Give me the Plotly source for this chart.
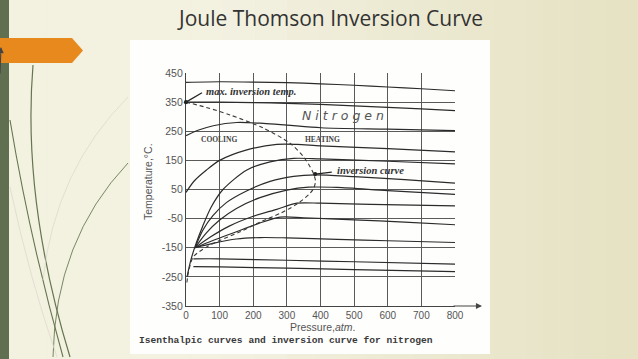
import plotly.graph_objects as go

# ---------------- data ----------------
x_ticks = [0, 100, 200, 300, 400, 500, 600, 700, 800]
y_ticks = [-350, -250, -150, -50, 50, 150, 250, 350, 450]
y_tick_text = ["-350", "-250", "-150", "-50", "50", "150", "250", "350", "450"]

# isenthalpic curves (pressure atm, temperature C)
h1_p = [0, 100, 200, 300, 400, 500, 600, 700, 800]
h1_t = [418, 420, 419, 417, 413, 408, 402, 396, 389]
h2_p = [0, 100, 200, 300, 400, 500, 600, 700, 800]
h2_t = [350, 350, 348, 346, 342, 337, 332, 327, 321]
h3_p = [0, 40, 81, 151, 230, 300, 402, 600, 800]
h3_t = [235, 255, 269, 280, 277, 271, 262, 257, 252]
h4_p = [0, 25, 61, 100, 181, 270, 330, 400, 600, 800]
h4_t = [40, 80, 117, 150, 186, 205, 205, 200, 190, 179]
h5_p = [3, 15, 30, 50, 75, 110, 181, 250, 320, 400, 600, 800]
h5_t = [-250, -190, -135, -75, -10, 50, 117, 145, 157, 155, 147, 138]
h6_p = [27, 50, 80, 120, 180, 250, 320, 385, 500, 650, 800]
h6_t = [-150, -90, -40, 5, 45, 78, 95, 100, 94, 84, 72]
h7_p = [27, 60, 100, 150, 220, 300, 365, 450, 600, 800]
h7_t = [-150, -100, -55, -15, 22, 48, 58, 57, 46, 33]
h8_p = [27, 70, 130, 200, 270, 330, 400, 550, 800]
h8_t = [-150, -115, -75, -42, -18, 3, 3, -1, -6]
h9_p = [27, 80, 150, 220, 280, 350, 500, 650, 800]
h9_t = [-150, -125, -95, -65, -45, -47, -54, -62, -71]
h10_p = [27, 80, 150, 220, 300, 450, 600, 800]
h10_t = [-150, -135, -120, -115, -116, -121, -126, -132]
h11_p = [22, 100, 300, 500, 800]
h11_t = [-188, -188, -193, -198, -206]
h12_p = [22, 100, 300, 500, 800]
h12_t = [-215, -216, -220, -225, -232]

# inversion curve (dashed)
inv_p = [0, 60, 131, 230, 309, 349, 375, 385, 380, 369, 330, 280, 220, 161, 100, 62, 22, 8, 2]
inv_t = [350, 332, 306, 261, 209, 163, 115, 80, 55, 37, 0, -32, -62, -95, -125, -147, -181, -230, -275]

curves = [(h1_p, h1_t), (h2_p, h2_t), (h3_p, h3_t), (h4_p, h4_t), (h5_p, h5_t),
          (h6_p, h6_t), (h7_p, h7_t), (h8_p, h8_t), (h9_p, h9_t), (h10_p, h10_t),
          (h11_p, h11_t), (h12_p, h12_t)]

# ---------------- layout geometry ----------------
W, H = 638, 359
L, R, T, B = 186, 455, 73, 306


def px(xp):
    return (xp - L) / (R - L)


def py(yp):
    return (B - yp) / (B - T)


def pt(xp, yp):
    return f"{px(xp):.4f},{py(yp):.4f}"


fig = go.Figure()

for cp, ct in curves:
    fig.add_trace(go.Scatter(x=cp, y=ct, mode="lines",
                             line=dict(color="#2b2b2b", width=1.2, shape="spline", smoothing=0.8),
                             hoverinfo="skip", showlegend=False))

fig.add_trace(go.Scatter(x=inv_p, y=inv_t, mode="lines",
                         line=dict(color="#3a3a3a", width=1.1, dash="4px,3px", shape="spline", smoothing=0.8),
                         hoverinfo="skip", showlegend=False))

shapes = []
# background gradient stripes
n = 40
c_left = (243, 241, 224)
c_mid = (243, 241, 225)
c_right = (230, 226, 195)
for i in range(n):
    f = i / (n - 1)
    if f < 0.35:
        g = f / 0.35
        c = [c_left[k] + (c_mid[k] - c_left[k]) * g for k in range(3)]
    else:
        g = (f - 0.35) / 0.65
        c = [c_mid[k] + (c_right[k] - c_mid[k]) * g for k in range(3)]
    x0 = W * i / n
    x1 = W * (i + 1) / n + 0.6
    shapes.append(dict(type="rect", xref="paper", yref="paper", x0=px(x0), x1=px(x1), y0=py(H), y1=py(0),
                       fillcolor="rgb(%d,%d,%d)" % tuple(int(v) for v in c), line=dict(width=0), layer="below"))

# decorative grass strokes
grass = [
    ([(33, 65), (22, 200), (70, 357)], "#65754f", 1.2),
    ([(10, 120), (30, 240), (63, 357)], "#65754f", 1.1),
    ([(128, 163), (55, 240), (53, 357)], "#6b7a57", 0.9),
    ([(128, 97), (55, 170), (43, 280)], "#dcdbcc", 0.8),
    ([(10, 187), (30, 280), (57, 357)], "#dcdbcc", 0.8),
]
for pts, col, wdt in grass:
    (a, b, c) = pts
    path = f"M {pt(*a)} Q {pt(*b)} {pt(*c)}"
    shapes.append(dict(type="path", xref="paper", yref="paper", path=path,
                       line=dict(color=col, width=wdt), layer="below"))

# green side bar
shapes.append(dict(type="rect", xref="paper", yref="paper", x0=px(0), x1=px(9), y0=py(H), y1=py(0),
                   fillcolor="#606f4f", line=dict(width=0), layer="below"))
# orange arrow tab
shapes.append(dict(type="path", xref="paper", yref="paper",
                   path=f"M {pt(0,38)} L {pt(72,38)} L {pt(83,50.5)} L {pt(72,63)} L {pt(0,63)} Z",
                   fillcolor="#e8891e", line=dict(width=0), layer="below"))
# white scanned-image area
shapes.append(dict(type="rect", xref="paper", yref="paper", x0=px(130), x1=px(490), y0=py(354), y1=py(40),
                   fillcolor="#fefefd", line=dict(width=0), layer="below"))

annotations = []
# title
annotations.append(dict(text="Joule Thomson Inversion Curve", xref="paper", yref="paper",
                        x=px(330), y=py(18), showarrow=False, xanchor="center", yanchor="middle",
                        font=dict(family="Open Sans", size=21, color="#333333")))
# axis arrows
annotations.append(dict(text="", xref="paper", yref="paper", x=px(0), y=py(47), ax=0, ay=28,
                        showarrow=True, arrowhead=2, arrowsize=1.1, arrowwidth=1.1, arrowcolor="#444"))
annotations.append(dict(text="", xref="paper", yref="paper", x=px(482), y=py(B), ax=-30, ay=0,
                        showarrow=True, arrowhead=2, arrowsize=1.1, arrowwidth=1.1, arrowcolor="#444"))
# max inversion temp
annotations.append(dict(text="", x=0, y=350, xref="x", yref="y", axref="x", ayref="y", ax=52, ay=385,
                        showarrow=True, arrowhead=6, arrowsize=0.9, arrowwidth=1.2, arrowcolor="#222"))
annotations.append(dict(text="<b><i>max. inversion temp.</i></b>", xref="paper", yref="paper",
                        x=px(204), y=py(91.5), showarrow=False, xanchor="left", yanchor="middle",
                        font=dict(family="Liberation Serif", size=10.5, color="#333")))
# inversion curve label
annotations.append(dict(text="", x=384, y=103, xref="x", yref="y", axref="x", ayref="y", ax=438, ay=110,
                        showarrow=True, arrowhead=6, arrowsize=0.9, arrowwidth=1.2, arrowcolor="#222"))
annotations.append(dict(text="<b><i>inversion curve</i></b>", xref="paper", yref="paper",
                        x=px(335), y=py(170), showarrow=False, xanchor="left", yanchor="middle",
                        font=dict(family="Liberation Serif", size=10.5, color="#333")))
# Nitrogen
annotations.append(dict(text="<i>N i t r o g e n</i>", xref="paper", yref="paper",
                        x=px(343), y=py(116), showarrow=False, xanchor="center", yanchor="middle",
                        font=dict(family="DejaVu Sans", size=12.5, color="#555")))
# cooling / heating
annotations.append(dict(text="<b>COOLING</b>", xref="paper", yref="paper",
                        x=px(219), y=py(139.5), showarrow=False, xanchor="center", yanchor="middle",
                        font=dict(family="Liberation Serif", size=7.5, color="#444")))
annotations.append(dict(text="<b>HEATING</b>", xref="paper", yref="paper",
                        x=px(322), y=py(139.5), showarrow=False, xanchor="center", yanchor="middle",
                        font=dict(family="Liberation Serif", size=7.5, color="#444")))
# axis titles
annotations.append(dict(text="Temperature,°C.", xref="paper", yref="paper",
                        x=px(148), y=py(182), showarrow=False, textangle=-90,
                        xanchor="center", yanchor="middle",
                        font=dict(family="Liberation Sans", size=10.5, color="#555")))
annotations.append(dict(text="Pressure,<i>atm</i>.", xref="paper", yref="paper",
                        x=px(322), y=py(327), showarrow=False, xanchor="center", yanchor="middle",
                        font=dict(family="Liberation Sans", size=10.5, color="#555")))
# caption
annotations.append(dict(text="<b>Isenthalpic curves and inversion curve for nitrogen</b>",
                        xref="paper", yref="paper", x=px(137), y=py(340), showarrow=False,
                        xanchor="left", yanchor="middle",
                        font=dict(family="Liberation Mono", size=9.6, color="#3a3a3a")))

fig.update_layout(
    width=W, height=H,
    margin=dict(l=L, r=W - R, t=T, b=H - B, pad=0),
    paper_bgcolor="#f1efdd",
    plot_bgcolor="rgba(0,0,0,0)",
    shapes=shapes,
    annotations=annotations,
    showlegend=False,
    xaxis=dict(range=[0, 800], tickvals=x_ticks, ticktext=[str(v) for v in x_ticks],
               showgrid=True, gridcolor="#5a5a5a", gridwidth=0.9, zeroline=False,
               showline=True, linecolor="#444", linewidth=1.2, ticks="",
               tickfont=dict(family="Liberation Sans", size=10, color="#555"), fixedrange=True),
    yaxis=dict(range=[-350, 450], tickvals=y_ticks, ticktext=y_tick_text,
               showgrid=True, gridcolor="#5a5a5a", gridwidth=0.9, zeroline=False,
               showline=True, linecolor="#444", linewidth=1.2, ticks="",
               tickfont=dict(family="Liberation Sans", size=10.5, color="#555"), fixedrange=True),
)

fig.write_html("out.html", config={"displayModeBar": False},
               post_script="document.body.style.margin='0';document.body.style.overflow='hidden';")
